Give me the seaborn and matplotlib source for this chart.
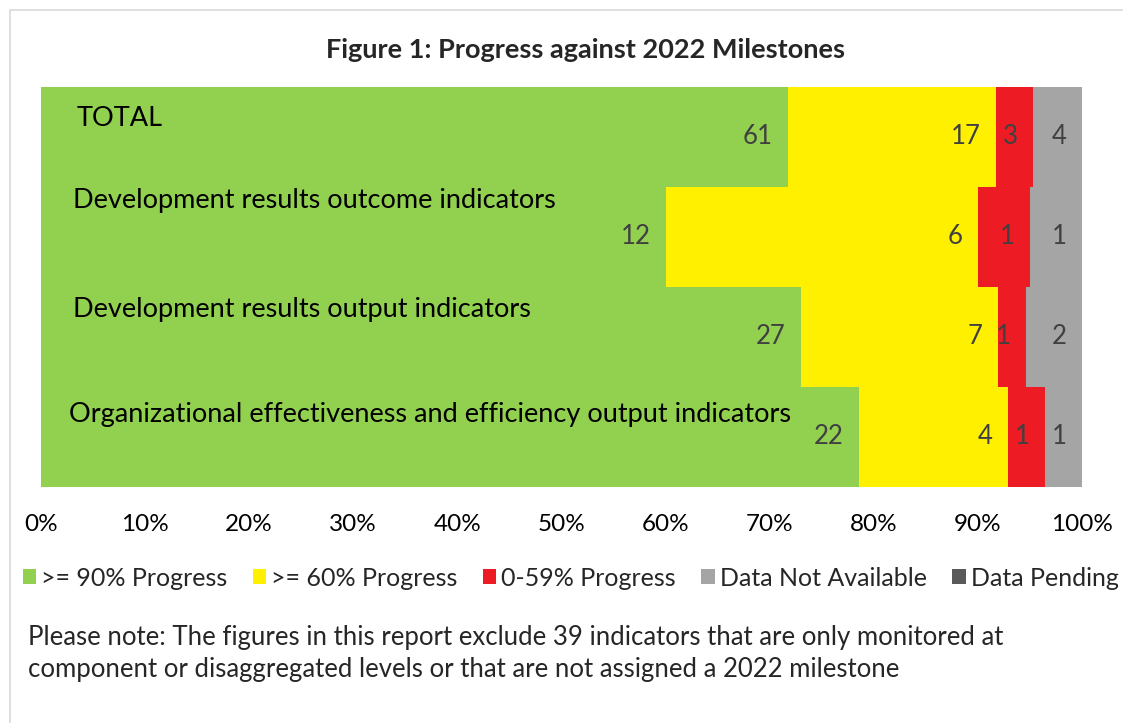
# Figure 1: Progress against 2022 Milestones
import pandas as pd
import matplotlib.pyplot as plt
import seaborn as sns
from matplotlib.patches import Patch, Rectangle
from matplotlib.ticker import PercentFormatter

# Data
categories = [
    "TOTAL",
    "Development results outcome indicators",
    "Development results output indicators",
    "Organizational effectiveness and efficiency output indicators",
]
series_names = [">= 90% Progress", ">= 60% Progress", "0-59% Progress",
                "Data Not Available", "Data Pending"]
progress_90 = [61, 12, 27, 22]
progress_60 = [17, 6, 7, 4]
progress_low = [3, 1, 1, 1]
not_available = [4, 1, 2, 1]
pending = [0, 0, 0, 0]
tick_values = [0, 0.1, 0.2, 0.3, 0.4, 0.5, 0.6, 0.7, 0.8, 0.9, 1.0]

# Styling
COLORS = ["#92D050", "#FFF000", "#ED1C24", "#A5A5A5", "#595959"]
LABEL_COLOR = "#404040"
# offsets (points) of the category names from the bar's left/center
NAME_OFFSETS = [(26, 13), (23, 26), (23, 19.5), (20, 16.5)]
FONT = "Lato"


def build_frame():
    df = pd.DataFrame(
        dict(zip(series_names, [progress_90, progress_60, progress_low, not_available, pending])),
        index=categories,
    )
    shares = df.div(df.sum(axis=1), axis=0)
    return df, shares.cumsum(axis=1)


def draw_chart(df, cum):
    fig = plt.figure(figsize=(11.23, 7.23), dpi=100)
    ax = fig.add_axes([41 / 1123, 236 / 723, 1041 / 1123, 400 / 723])

    # stacked bars: draw cumulative totals from the right-most segment back
    for name, color in reversed(list(zip(series_names, COLORS))):
        sns.barplot(x=cum[name].values, y=categories, color=color, saturation=1,
                    width=1.0, orient="h", linewidth=0, ax=ax)

    # value labels at the inside end of each segment
    for name in series_names:
        for i, cat in enumerate(categories):
            v = df.loc[cat, name]
            if v == 0:
                continue
            ax.annotate(str(v), xy=(cum.loc[cat, name], i), xytext=(-11, 0),
                        textcoords="offset points", ha="right", va="center",
                        fontsize=18.5, color=LABEL_COLOR)

    # category names inside the bars
    for i, cat in enumerate(categories):
        dx, dy = NAME_OFFSETS[i]
        ax.annotate(cat, xy=(0, i), xytext=(dx, dy), textcoords="offset points",
                    ha="left", va="center", fontsize=19.5, color="black")

    ax.set_xlim(0, 1)
    ax.set_ylim(len(categories) - 0.5, -0.5)
    ax.set_xticks(tick_values)
    ax.xaxis.set_major_formatter(PercentFormatter(1.0, decimals=0))
    ax.set_yticks([])
    ax.set_xlabel("")
    ax.set_ylabel("")
    ax.tick_params(axis="x", length=0, pad=19.5, labelsize=17.5, labelcolor="black")
    sns.despine(ax=ax, left=True, bottom=True)

    # outer chart border
    fig.patches.append(Rectangle((10 / 1123, -0.1), 1.2, 1.1 - 10 / 723,
                                 transform=fig.transFigure, fill=False,
                                 edgecolor="#D9D9D9", linewidth=1.2))

    fig.text(0.521, 1 - 50 / 723, "Figure 1: Progress against 2022 Milestones",
             ha="center", va="center", fontsize=19.5, fontweight="bold")

    handles = [Patch(facecolor=c, edgecolor="none", label=n)
               for n, c in zip(series_names, COLORS)]
    fig.legend(handles=handles, loc="center", bbox_to_anchor=(0.508, 1 - 578 / 723),
               ncol=5, frameon=False, fontsize=18, handlelength=0.55, handleheight=0.55,
               handletextpad=0.2, columnspacing=1.0)

    fig.text(28 / 1123, 1 - 638 / 723,
             "Please note: The figures in this report exclude 39 indicators that are only monitored at",
             ha="left", va="center", fontsize=18.5)
    fig.text(28 / 1123, 1 - 670 / 723,
             "component or disaggregated levels or that are not assigned a 2022 milestone",
             ha="left", va="center", fontsize=18.5)
    return fig


def main():
    sns.set_theme(style="white")
    plt.rcParams["font.family"] = [FONT, "DejaVu Sans"]
    df, cum = build_frame()
    fig = draw_chart(df, cum)
    fig.savefig("out.png", dpi=100)
    plt.close(fig)


if __name__ == "__main__":
    main()
